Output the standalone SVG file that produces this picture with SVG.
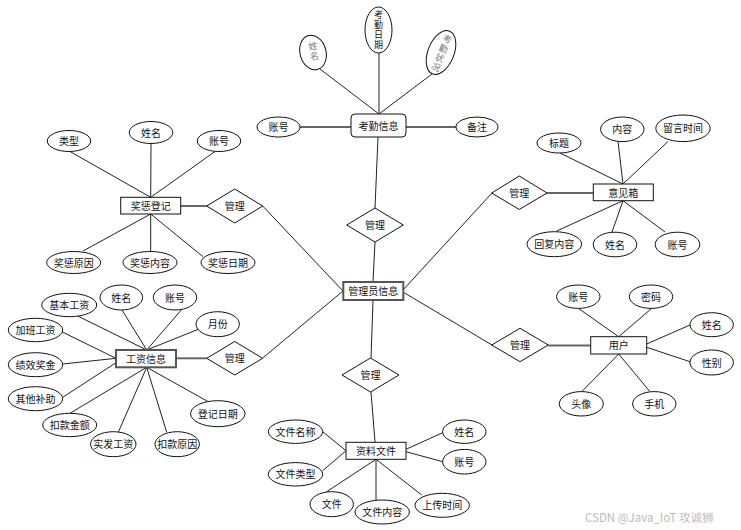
<svg xmlns="http://www.w3.org/2000/svg" width="741" height="530" viewBox="0 0 741 530">
<style>
text{font-family:"Noto Sans CJK SC","Liberation Sans",sans-serif;font-size:10px;fill:#111;text-anchor:middle;dominant-baseline:central}
.v{font-size:9px;writing-mode:vertical-rl;letter-spacing:1px}
.e{fill:#fff;stroke:#111;stroke-width:1}
.r{fill:#fff;stroke:#111;stroke-width:1}
.rg{fill:#fff;stroke:#555;stroke-width:2}
.d{fill:#fff;stroke:#111;stroke-width:1}
.l{stroke:#222;stroke-width:1;fill:none}
.t{stroke:#666;stroke-width:2;fill:none}
.g{fill:#777}
.wm{fill:#bbb;font-size:11.5px;text-anchor:start}
</style>
<rect width="741" height="530" fill="#fff"/>
<g id="connectors">
<line class="l" x1="320" y1="69" x2="379" y2="114"/>
<line class="l" x1="379" y1="53" x2="379" y2="114"/>
<line class="l" x1="432" y1="74" x2="379" y2="114"/>
<line class="t" x1="300" y1="127" x2="351" y2="127"/>
<line class="t" x1="406" y1="127" x2="456" y2="127"/>
<line class="l" x1="378" y1="137" x2="375" y2="208"/>
<line class="l" x1="375" y1="242" x2="373" y2="282"/>
<line class="l" x1="262.7" y1="206" x2="343" y2="291"/>
<line class="l" x1="262.7" y1="358" x2="343" y2="291"/>
<line class="l" x1="492" y1="193" x2="403" y2="290"/>
<line class="l" x1="492" y1="345" x2="403" y2="292"/>
<line class="l" x1="373" y1="300" x2="371" y2="358"/>
<line class="l" x1="371" y1="392" x2="375" y2="442"/>
<line class="l" x1="70" y1="151.5" x2="150.7" y2="197.3"/>
<line class="l" x1="151" y1="143.5" x2="150.7" y2="197.3"/>
<line class="l" x1="215" y1="151.5" x2="150.7" y2="197.3"/>
<line class="t" x1="180.7" y1="206" x2="206.7" y2="206"/>
<line class="l" x1="83" y1="251" x2="150.7" y2="214"/>
<line class="l" x1="150.7" y1="214" x2="150.7" y2="251.7"/>
<line class="l" x1="203" y1="256.7" x2="150.7" y2="214"/>
<line class="t" x1="547" y1="193" x2="593.3" y2="193"/>
<line class="l" x1="560" y1="153" x2="623" y2="184"/>
<line class="l" x1="618" y1="141.5" x2="623" y2="184"/>
<line class="l" x1="668" y1="141.5" x2="623" y2="184"/>
<line class="l" x1="556.7" y1="231" x2="623" y2="200.7"/>
<line class="l" x1="612" y1="232" x2="623" y2="200.7"/>
<line class="l" x1="665" y1="232" x2="623" y2="200.7"/>
<line class="t" x1="176" y1="358.3" x2="206.7" y2="358.3"/>
<line class="l" x1="76.7" y1="315.5" x2="146.7" y2="350"/>
<line class="l" x1="121.7" y1="309.5" x2="146.7" y2="350"/>
<line class="l" x1="181.7" y1="309.5" x2="146.7" y2="350"/>
<line class="l" x1="198.3" y1="329.3" x2="146.7" y2="350"/>
<line class="l" x1="61.7" y1="331.7" x2="116" y2="358.3"/>
<line class="l" x1="62.7" y1="364" x2="116" y2="358.3"/>
<line class="l" x1="62.7" y1="397.3" x2="116" y2="362.7"/>
<line class="l" x1="70" y1="413.3" x2="146.7" y2="367.3"/>
<line class="l" x1="118.3" y1="432.2" x2="146.7" y2="367.3"/>
<line class="l" x1="166.7" y1="432.2" x2="146.7" y2="367.3"/>
<line class="l" x1="208.3" y1="401.7" x2="146.7" y2="367.3"/>
<line class="t" x1="548.3" y1="345.5" x2="590.7" y2="345.5"/>
<line class="l" x1="578.3" y1="308.3" x2="618.7" y2="336.7"/>
<line class="l" x1="651.7" y1="308.3" x2="618.7" y2="336.7"/>
<line class="l" x1="690" y1="325" x2="646.7" y2="344"/>
<line class="l" x1="690" y1="361.7" x2="646.7" y2="347.3"/>
<line class="l" x1="581.7" y1="391.7" x2="618.7" y2="354"/>
<line class="l" x1="650" y1="391.7" x2="618.7" y2="354"/>
<line class="l" x1="322.7" y1="431.7" x2="346" y2="450.7"/>
<line class="l" x1="322.7" y1="470.7" x2="346" y2="450.7"/>
<line class="l" x1="326.7" y1="491.7" x2="376" y2="459.3"/>
<line class="l" x1="376" y1="500" x2="376" y2="459.3"/>
<line class="l" x1="421.7" y1="495" x2="376" y2="459.3"/>
<line class="l" x1="442.7" y1="432.7" x2="406" y2="449.3"/>
<line class="l" x1="442.7" y1="461.7" x2="406" y2="451.7"/>
</g>

<g id="kaoqin">
<rect x="351" y="114" width="55" height="23" rx="4" class="r"/>
<text x="378.5" y="125.5">考勤信息</text>
</g>
<g id="kaoqin-name">
<ellipse cx="313" cy="52.5" rx="13" ry="17.5" class="e" transform="rotate(-15 313 52.5)"/>
<text x="313.8" y="51.5" class="g v" transform="rotate(-8 313.8 51.5)">姓名</text>
</g>
<g id="kaoqin-date">
<ellipse cx="378.5" cy="30" rx="13.5" ry="23" class="e"/>
<text x="378.5" y="30" class="v">考勤日期</text>
</g>
<g id="kaoqin-status">
<ellipse cx="441" cy="52.5" rx="13" ry="23" class="e" transform="rotate(22 441 52.5)"/>
<text x="441.3" y="53.5" class="g v" transform="rotate(22 441.3 53.5)">考勤状况</text>
</g>
<g id="kaoqin-account">
<ellipse cx="278.5" cy="127" rx="21.5" ry="10" class="e"/>
<text x="278.5" y="126.5">账号</text>
</g>
<g id="kaoqin-note">
<ellipse cx="477" cy="127" rx="21" ry="10" class="e"/>
<text x="477" y="126.5">备注</text>
</g>

<g id="rel-top">
<polygon points="375,208 403.3,225 375,242 346.7,225" class="d"/>
<text x="375" y="224.5">管理</text>
</g>
<g id="rel-bottom">
<polygon points="370.5,358 399,375 370.5,392 342,375" class="d"/>
<text x="370.5" y="374.5">管理</text>
</g>
<g id="rel-left-top">
<polygon points="234.7,189 262.7,206 234.7,223 206.7,206" class="d"/>
<text x="234.7" y="205.5">管理</text>
</g>
<g id="rel-left-bottom">
<polygon points="234.7,341.5 262.7,358.3 234.7,375 206.7,358.3" class="d"/>
<text x="234.7" y="357.8">管理</text>
</g>
<g id="rel-right-top">
<polygon points="519.3,176 547,193 519.3,209.5 491.7,193" class="d"/>
<text x="519.3" y="192.5">管理</text>
</g>
<g id="rel-right-bottom">
<polygon points="520,328.3 548.3,345 520,361.7 491.7,345" class="d"/>
<text x="520" y="344.5">管理</text>
</g>

<g id="admin">
<rect x="343.3" y="282" width="60" height="18" class="rg"/>
<text x="373.3" y="290.5">管理员信息</text>
</g>

<g id="jiangcheng">
<rect x="120.7" y="197.3" width="60" height="16.7" class="r"/>
<text x="150.7" y="205.3">奖惩登记</text>
</g>
<g id="jc-type"><ellipse cx="69" cy="141" rx="21.7" ry="10.5" class="e"/><text x="69" y="140.5">类型</text></g>
<g id="jc-name"><ellipse cx="151" cy="132.5" rx="21.8" ry="11" class="e"/><text x="151" y="132">姓名</text></g>
<g id="jc-account"><ellipse cx="219" cy="141" rx="21.7" ry="10.5" class="e"/><text x="219" y="140.5">账号</text></g>
<g id="jc-reason"><ellipse cx="73.7" cy="262.5" rx="27" ry="11" class="e"/><text x="73.7" y="262">奖惩原因</text></g>
<g id="jc-content"><ellipse cx="150" cy="262.5" rx="27" ry="11" class="e"/><text x="150" y="262">奖惩内容</text></g>
<g id="jc-date"><ellipse cx="228" cy="262.5" rx="27" ry="11" class="e"/><text x="228" y="262">奖惩日期</text></g>

<g id="yijianxiang">
<rect x="593.3" y="184" width="60" height="16.7" class="r"/>
<text x="623.3" y="192">意见箱</text>
</g>
<g id="yj-title"><ellipse cx="559" cy="143" rx="22" ry="10" class="e"/><text x="559" y="142.5">标题</text></g>
<g id="yj-content"><ellipse cx="622.3" cy="129.3" rx="21.7" ry="12.3" class="e"/><text x="622.3" y="128.8">内容</text></g>
<g id="yj-time"><ellipse cx="683" cy="128.3" rx="27.2" ry="13.3" class="e"/><text x="683" y="127.8">留言时间</text></g>
<g id="yj-reply"><ellipse cx="554.3" cy="244.2" rx="27.3" ry="12.5" class="e"/><text x="554.3" y="243.7">回复内容</text></g>
<g id="yj-name"><ellipse cx="615" cy="244.5" rx="21.8" ry="12.3" class="e"/><text x="615" y="244">姓名</text></g>
<g id="yj-account"><ellipse cx="677.5" cy="244.5" rx="22.3" ry="12.3" class="e"/><text x="677.5" y="244">账号</text></g>

<g id="gongzi">
<rect x="116" y="350" width="60" height="17.3" class="rg"/>
<text x="146" y="358.2">工资信息</text>
</g>
<g id="gz-basic"><ellipse cx="69.2" cy="305" rx="27.5" ry="11.7" class="e"/><text x="69.2" y="304.5">基本工资</text></g>
<g id="gz-name"><ellipse cx="121.3" cy="297.5" rx="21.3" ry="12.5" class="e"/><text x="121.3" y="297">姓名</text></g>
<g id="gz-account"><ellipse cx="175" cy="297.5" rx="21.7" ry="12.5" class="e"/><text x="175" y="297">账号</text></g>
<g id="gz-month"><ellipse cx="217.7" cy="324.2" rx="21.7" ry="12.5" class="e"/><text x="217.7" y="323.7">月份</text></g>
<g id="gz-overtime"><ellipse cx="35.5" cy="330" rx="27.2" ry="11.7" class="e"/><text x="35.5" y="329.5">加班工资</text></g>
<g id="gz-bonus"><ellipse cx="35.5" cy="364.7" rx="27.2" ry="12" class="e"/><text x="35.5" y="364.2">绩效奖金</text></g>
<g id="gz-subsidy"><ellipse cx="35.5" cy="398.7" rx="27.2" ry="12" class="e"/><text x="35.5" y="398.2">其他补助</text></g>
<g id="gz-deduct"><ellipse cx="69.7" cy="425" rx="27" ry="11.7" class="e"/><text x="69.7" y="424.5">扣款金额</text></g>
<g id="gz-actual"><ellipse cx="113.3" cy="444.2" rx="22.7" ry="12.5" class="e"/><text x="113.3" y="443.7">实发工资</text></g>
<g id="gz-reason"><ellipse cx="177.2" cy="444.2" rx="22.2" ry="12.5" class="e"/><text x="177.2" y="443.7">扣款原因</text></g>
<g id="gz-date"><ellipse cx="217.8" cy="413.7" rx="27.2" ry="13" class="e"/><text x="217.8" y="413.2">登记日期</text></g>

<g id="yonghu">
<rect x="590.7" y="336.7" width="56" height="17.3" class="r"/>
<text x="618.7" y="344.9">用户</text>
</g>
<g id="yh-account"><ellipse cx="578.3" cy="296.7" rx="21.7" ry="11.7" class="e"/><text x="578.3" y="296.2">账号</text></g>
<g id="yh-password"><ellipse cx="651" cy="296.7" rx="21.7" ry="11.7" class="e"/><text x="651" y="296.2">密码</text></g>
<g id="yh-name"><ellipse cx="711.7" cy="324.7" rx="21.7" ry="12" class="e"/><text x="711.7" y="324.2">姓名</text></g>
<g id="yh-gender"><ellipse cx="711.7" cy="362.5" rx="21.7" ry="12.5" class="e"/><text x="711.7" y="362">性别</text></g>
<g id="yh-avatar"><ellipse cx="581.3" cy="403.8" rx="22" ry="12.2" class="e"/><text x="581.3" y="403.3">头像</text></g>
<g id="yh-phone"><ellipse cx="654.3" cy="403.8" rx="21.7" ry="12.2" class="e"/><text x="654.3" y="403.3">手机</text></g>

<g id="ziliao">
<rect x="346" y="442.3" width="60" height="17" class="r"/>
<text x="376" y="450.3">资料文件</text>
</g>
<g id="zl-filename"><ellipse cx="295.5" cy="431.7" rx="27.2" ry="11.7" class="e"/><text x="295.5" y="431.2">文件名称</text></g>
<g id="zl-filetype"><ellipse cx="295.5" cy="474.3" rx="27.2" ry="11.7" class="e"/><text x="295.5" y="473.8">文件类型</text></g>
<g id="zl-file"><ellipse cx="331.7" cy="504.2" rx="21.7" ry="12.5" class="e"/><text x="331.7" y="503.7">文件</text></g>
<g id="zl-content"><ellipse cx="382.2" cy="512" rx="27.2" ry="12" class="e"/><text x="382.2" y="511.5">文件内容</text></g>
<g id="zl-upload"><ellipse cx="442.2" cy="505.3" rx="27.2" ry="12" class="e"/><text x="442.2" y="504.8">上传时间</text></g>
<g id="zl-name"><ellipse cx="464.3" cy="431.7" rx="21.7" ry="11.7" class="e"/><text x="464.3" y="431.2">姓名</text></g>
<g id="zl-account"><ellipse cx="464.3" cy="461.7" rx="21.7" ry="12.3" class="e"/><text x="464.3" y="461.2">账号</text></g>

<text x="585" y="517" class="wm">CSDN @Java_IoT 攻诚狮</text>
</svg>
